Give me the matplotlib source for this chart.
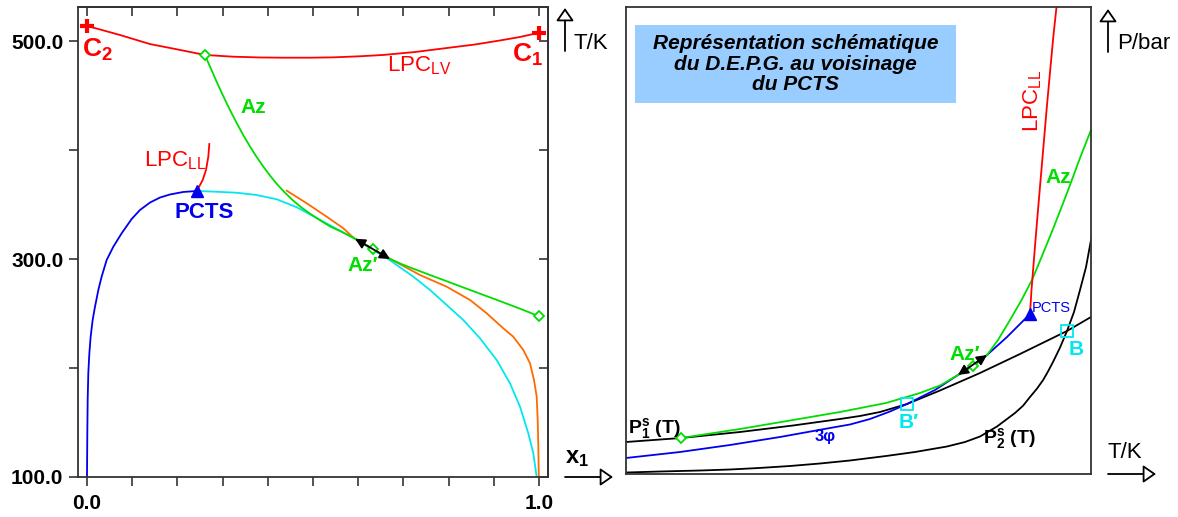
import numpy as np
import matplotlib
matplotlib.use('Agg')
import matplotlib.pyplot as plt
from matplotlib.patches import FancyArrowPatch, Rectangle

plt.rcParams['font.family'] = ['Liberation Sans', 'DejaVu Sans']
plt.rcParams['mathtext.fontset'] = 'custom'
plt.rcParams['mathtext.rm'] = 'Liberation Sans'
plt.rcParams['mathtext.bf'] = 'Liberation Sans:bold'
plt.rcParams['mathtext.it'] = 'Liberation Sans:italic'
plt.rcParams['mathtext.sf'] = 'Liberation Sans'

# ---------------- data: left panel (x1, T/K) ----------------
lpc_lv_x = [0.0, 0.0288, 0.0730, 0.1394, 0.1985, 0.2611, 0.3237, 0.3827, 0.4343, 0.4934, 0.5449,
            0.6040, 0.6555, 0.7257, 0.7965, 0.8584, 0.9137, 0.9580, 1.0]
lpc_lv_T = [513.8, 510.6, 505.5, 497.2, 492.4, 487.2, 485.6, 484.9, 484.7, 484.7, 485.0,
            486.0, 487.2, 489.9, 493.6, 496.8, 500.5, 503.7, 507.6]

az_x = [0.2611, 0.2721, 0.2869, 0.3000, 0.3150, 0.3312, 0.3450, 0.3606, 0.3750, 0.3900, 0.4050,
        0.4197, 0.4380, 0.4564, 0.4750, 0.4934, 0.5150, 0.5376, 0.5630, 0.5892, 0.6110, 0.6334,
        0.6520, 0.6704, 0.6950, 0.7200, 0.7500, 0.7965, 0.8473, 0.9071, 0.9580, 1.0]
az_T = [487.2, 476.5, 462.6, 450.7, 437.8, 424.7, 414.2, 403.2, 393.8, 384.8, 376.5,
        369.0, 360.8, 353.5, 347.1, 341.6, 335.7, 329.9, 325.0, 319.5, 314.2, 308.8,
        304.2, 300.0, 295.5, 291.4, 286.7, 279.5, 271.6, 262.4, 254.4, 247.5]

blue_x = [0.0, 0.0007, 0.0015, 0.0029, 0.0052, 0.0081, 0.0125, 0.0177, 0.0251, 0.0324, 0.0435,
          0.0583, 0.0767, 0.0988, 0.1173, 0.1394, 0.1615, 0.1836, 0.2131, 0.2427]
blue_T = [100, 140.1, 170.6, 195.1, 213.4, 228.7, 244.0, 256.2, 271.6, 283.8, 299.1,
          311.3, 323.6, 336.7, 345.0, 351.8, 356.4, 359.2, 361.5, 362.4]

cyan_x = [0.2427, 0.2869, 0.3312, 0.3754, 0.4197, 0.4639, 0.5082, 0.5524, 0.5892, 0.6327, 0.6704,
          0.7219, 0.7588, 0.7958, 0.8325, 0.8695, 0.9064, 0.9358, 0.9580, 0.9763, 0.9874, 0.9949]
cyan_T = [362.4, 361.7, 360.8, 358.7, 354.8, 347.5, 337.6, 327.6, 319.3, 308.4, 298.8,
          283.8, 271.6, 257.8, 244.0, 227.2, 207.3, 186.0, 164.5, 140.1, 121.7, 100.0]

orange_x = [0.4418, 0.4861, 0.5303, 0.5670, 0.5892, 0.6327, 0.6704, 0.7367, 0.7958, 0.8473,
            0.8843, 0.9210, 0.9431, 0.9653, 0.9801, 0.9889, 0.9949, 0.9971, 0.9985, 0.9995]
orange_T = [362.7, 351.1, 338.8, 328.2, 319.7, 309.2, 300.2, 285.3, 274.6, 262.4,
            250.2, 236.4, 228.7, 216.5, 204.3, 189.0, 173.7, 152.3, 127.8, 100.0]

lpc_ll_x = [0.2427, 0.2462, 0.2560, 0.2633, 0.2684, 0.2706]
lpc_ll_T = [362.4, 364.9, 372.5, 381.7, 393.9, 405.5]

pcts_left = (0.2427, 362.4)
c2_pt = (0.0, 513.8)
c1_pt = (1.0, 507.6)
az_diamonds_x = [0.2611, 0.6334, 1.0]
az_diamonds_T = [487.2, 308.8, 247.5]
azp_arrow_left = [(0.5930, 318.6), (0.6704, 300.0)]

x_ticks = [0.0, 0.1, 0.2, 0.3, 0.4, 0.5, 0.6, 0.7, 0.8, 0.9, 1.0]
x_ticklabels = ['0.0', '', '', '', '', '', '', '', '', '', '1.0']
y_ticks = [100, 200, 300, 400, 500]
y_ticklabels = ['100.0', '', '300.0', '', '500.0']

# ---------------- data: right panel (schematic T, P) ----------------
p1s_T = [0.0, 0.11828, 0.24516, 0.35914, 0.46022, 0.50323, 0.54624, 0.60430, 0.67527, 0.76129,
         0.84731, 0.94839, 1.0]
p1s_P = [0.06852, 0.07709, 0.08994, 0.10385, 0.11777, 0.12420, 0.13276, 0.14989, 0.17880, 0.21627,
         0.25696, 0.30621, 0.33619]

p2s_T = [0.0, 0.07312, 0.15914, 0.22366, 0.28602, 0.35269, 0.41720, 0.48172, 0.55914, 0.62151,
         0.69032, 0.72903, 0.76129, 0.79785, 0.83656, 0.85376, 0.86882, 0.88387, 0.89677, 0.90753,
         0.91828, 0.93333, 0.94839, 0.96344, 0.97634, 0.98925, 1.0]
p2s_P = [0.00321, 0.00535, 0.00749, 0.00964, 0.01285, 0.01713, 0.02248, 0.02891, 0.03854, 0.04711,
         0.05889, 0.06852, 0.08030, 0.10171, 0.13062, 0.14604, 0.16488, 0.18287, 0.20086, 0.21949,
         0.23983, 0.27066, 0.30621, 0.34690, 0.39400, 0.44283, 0.50107]

tri_T = [0.0, 0.11613, 0.22366, 0.33118, 0.43871, 0.48172, 0.52473, 0.56774, 0.60430, 0.66452,
         0.71398, 0.75054, 0.77634, 0.81935, 0.86882]
tri_P = [0.03426, 0.04711, 0.06210, 0.07923, 0.09850, 0.10600, 0.11777, 0.13383, 0.14989, 0.17987,
         0.21199, 0.23555, 0.25482, 0.29336, 0.34261]

azr_T = [0.11828, 0.24516, 0.35914, 0.46022, 0.55914, 0.63226, 0.67527, 0.71398, 0.75054, 0.77634,
         0.80000, 0.82581, 0.84946, 0.87312, 0.89462, 0.91828, 0.93763, 0.95484, 0.97634, 1.0]
azr_P = [0.07709, 0.09636, 0.11563, 0.13276, 0.15203, 0.17345, 0.18951, 0.21199, 0.23340, 0.25482,
         0.28694, 0.32976, 0.37045, 0.41542, 0.46681, 0.52463, 0.57388, 0.61884, 0.67666, 0.73662]

llr_T = [0.86882, 0.87204, 0.87634, 0.88065, 0.88602, 0.89247, 0.89892, 0.90538, 0.91290, 0.91935, 0.92581]
llr_P = [0.34261, 0.39400, 0.44754, 0.50107, 0.56531, 0.64026, 0.71520, 0.79015, 0.87152, 0.94004, 1.0]

pcts_right = (0.86882, 0.34261)
azr_diamonds_T = [0.11828, 0.7462]
azr_diamonds_P = [0.07709, 0.2313]
b_squares_T = [0.60430, 0.94839]
b_squares_P = [0.14989, 0.30621]
azp_arrow_right = [(0.71398, 0.21199), (0.77634, 0.25482)]

RED = '#ff0000'
GREEN = '#00dd00'
BLUE = '#0000ee'
CYAN = '#00e8ee'
ORANGE = '#ff6a00'
SPINE = '#333333'

W, H = 1178, 517
fig = plt.figure(figsize=(W / 100, H / 100), dpi=100)
fig.patch.set_facecolor('white')


def fx(px):
    return px / W


def fy(py):
    return 1 - py / H


def ftext(px, py, s, **kw):
    kw.setdefault('va', 'baseline')
    kw.setdefault('ha', 'left')
    fig.text(fx(px), fy(py), s, **kw)


lw = 1.3

# ---------------- left panel ----------------
ax1 = fig.add_axes([fx(78), fy(477), (548 - 78) / W, (477 - 7) / H])
ax1.set_xlim(-0.0199, 1.0199)
ax1.set_ylim(100, 531.2)
ax1.plot(cyan_x, cyan_T, color=CYAN, lw=lw)
ax1.plot(orange_x, orange_T, color=ORANGE, lw=lw)
ax1.plot(blue_x, blue_T, color=BLUE, lw=lw)
ax1.plot(az_x, az_T, color=GREEN, lw=lw)
ax1.plot(lpc_lv_x, lpc_lv_T, color=RED, lw=lw)
ax1.plot(lpc_ll_x, lpc_ll_T, color=RED, lw=lw)
ax1.annotate('', xy=azp_arrow_left[0], xytext=azp_arrow_left[1],
             arrowprops=dict(arrowstyle='<|-|>,head_length=0.6,head_width=0.3', color='black', lw=1.3,
                             shrinkA=0, shrinkB=0, mutation_scale=10))
ax1.plot(az_diamonds_x, az_diamonds_T, linestyle='none', marker='D', ms=5.5, mfc='white', mec=GREEN,
         mew=1.3, clip_on=False)
ax1.plot([pcts_left[0]], [pcts_left[1]], marker='^', ms=8, color=BLUE, linestyle='none')
ax1.plot([c2_pt[0], c1_pt[0]], [c2_pt[1], c1_pt[1]], marker='+', ms=10, mew=3, color=RED,
         linestyle='none', clip_on=False)

ax1.set_xticks(x_ticks)
ax1.set_xticklabels(x_ticklabels)
ax1.set_yticks(y_ticks)
ax1.set_yticklabels(y_ticklabels)
ax1.tick_params(axis='both', direction='out', length=6.5, width=1.2, color=SPINE, labelsize=15)
ax1.tick_params(axis='x', pad=6)
ax1.tick_params(axis='y', pad=4)
for lab in ax1.get_xticklabels() + ax1.get_yticklabels():
    lab.set_fontweight('bold')
for sp in ax1.spines.values():
    sp.set_color(SPINE)
    sp.set_linewidth(1.3)

secx = ax1.secondary_xaxis('top')
secx.set_xticks(x_ticks)
secx.tick_params(direction='in', length=6.5, width=1.2, color=SPINE, labeltop=False)
secx.spines['top'].set_color(SPINE)
secx.spines['top'].set_linewidth(1.3)
secy = ax1.secondary_yaxis('right')
secy.set_yticks(y_ticks)
secy.tick_params(direction='in', length=6.5, width=1.2, color=SPINE, labelright=False)
secy.spines['right'].set_color(SPINE)
secy.spines['right'].set_linewidth(1.3)

# left labels
ftext(82, 57, r'C$_{\mathbf{2}}$', color=RED, fontsize=19, fontweight='bold')
ftext(512, 62, r'C$_{\mathbf{1}}$', color=RED, fontsize=19, fontweight='bold')
ftext(387, 71, r'LPC$_{\mathrm{LV}}$', color=RED, fontsize=16)
ftext(240, 113, 'Az', color=GREEN, fontsize=15, fontweight='bold')
ftext(144, 166, r'LPC$_{\mathrm{LL}}$', color=RED, fontsize=16)
ftext(175, 218, 'PCTS', color=BLUE, fontsize=16, fontweight='bold')
ftext(347, 271, 'Az′', color=GREEN, fontsize=15, fontweight='bold')
ftext(573, 49, 'T/K', color='black', fontsize=16)
ftext(565, 463, r'x$_{\mathbf{1}}$', color='black', fontsize=17, fontweight='bold')

# ---------------- right panel ----------------
ax2 = fig.add_axes([fx(626), fy(474), (1091 - 626) / W, (474 - 7) / H])
ax2.set_xlim(0, 1)
ax2.set_ylim(0, 1)
ax2.set_xticks([])
ax2.set_yticks([])
for sp in ax2.spines.values():
    sp.set_color(SPINE)
    sp.set_linewidth(1.3)

ax2.plot(p1s_T, p1s_P, color='black', lw=lw)
ax2.plot(p2s_T, p2s_P, color='black', lw=lw)
ax2.plot(tri_T, tri_P, color=BLUE, lw=lw)
ax2.plot(azr_T, azr_P, color=GREEN, lw=lw)
ax2.plot(llr_T, llr_P, color=RED, lw=lw)
ax2.annotate('', xy=azp_arrow_right[0], xytext=azp_arrow_right[1],
             arrowprops=dict(arrowstyle='<|-|>,head_length=0.6,head_width=0.3', color='black', lw=1.3,
                             shrinkA=0, shrinkB=0, mutation_scale=10))
ax2.plot(azr_diamonds_T, azr_diamonds_P, linestyle='none', marker='D', ms=5.5, mfc='white', mec=GREEN, mew=1.3)
ax2.plot(b_squares_T, b_squares_P, linestyle='none', marker='s', ms=8, mfc='none', mec=CYAN, mew=1.3)
ax2.plot([pcts_right[0]], [pcts_right[1]], marker='^', ms=8, color=BLUE, linestyle='none')

ax2.add_patch(Rectangle(((635 - 626) / 465, (474 - 103) / 467), (956 - 635) / 465, 78 / 467,
                        transform=ax2.transAxes, facecolor='#99ccff', edgecolor='none', zorder=1))
ax2.text((795.5 - 626) / 465, (474 - 64) / 467,
         'Représentation schématique\ndu D.E.P.G. au voisinage\ndu PCTS',
         transform=ax2.transAxes, ha='center', va='center', fontsize=15, fontstyle='italic',
         fontweight='bold', linespacing=1.12, zorder=2)

ftext(628, 433, r'P$_{\mathbf{1}}^{\mathbf{s}}$ (T)', color='black', fontsize=14, fontweight='bold')
ftext(983, 443, r'P$_{\mathbf{2}}^{\mathbf{s}}$ (T)', color='black', fontsize=14, fontweight='bold')
ftext(815, 441, '3φ', color=BLUE, fontsize=12, fontweight='bold')
ftext(899, 428, 'B′', color=CYAN, fontsize=15, fontweight='bold')
ftext(1069, 355, 'B', color=CYAN, fontsize=15, fontweight='bold')
ftext(949, 360, 'Az′', color=GREEN, fontsize=15, fontweight='bold')
ftext(1032, 312, 'PCTS', color=BLUE, fontsize=10.5)
ftext(1045, 183, 'Az', color=GREEN, fontsize=15, fontweight='bold')
fig.text(fx(1033), fy(101), r'LPC$_{\mathrm{LL}}$', color=RED, fontsize=16, rotation=90,
         ha='center', va='center')
ftext(1117, 49, 'P/bar', color='black', fontsize=16)
ftext(1108, 458, 'T/K', color='black', fontsize=16)


# axis arrows (figure pixels)
def fig_arrow(p0, p1):
    a = FancyArrowPatch((fx(p0[0]), fy(p0[1])), (fx(p1[0]), fy(p1[1])),
                        transform=fig.transFigure,
                        arrowstyle='-|>,head_length=0.65,head_width=0.45',
                        mutation_scale=12, fc='white', ec='black', lw=1.3,
                        shrinkA=0, shrinkB=0)
    fig.patches.append(a)


fig_arrow((565, 51), (565, 8))
fig_arrow((565, 477), (613, 477))
fig_arrow((1108, 52), (1108, 9))
fig_arrow((1108, 474), (1156, 474))

fig.savefig('out.png', dpi=100, facecolor='white')
